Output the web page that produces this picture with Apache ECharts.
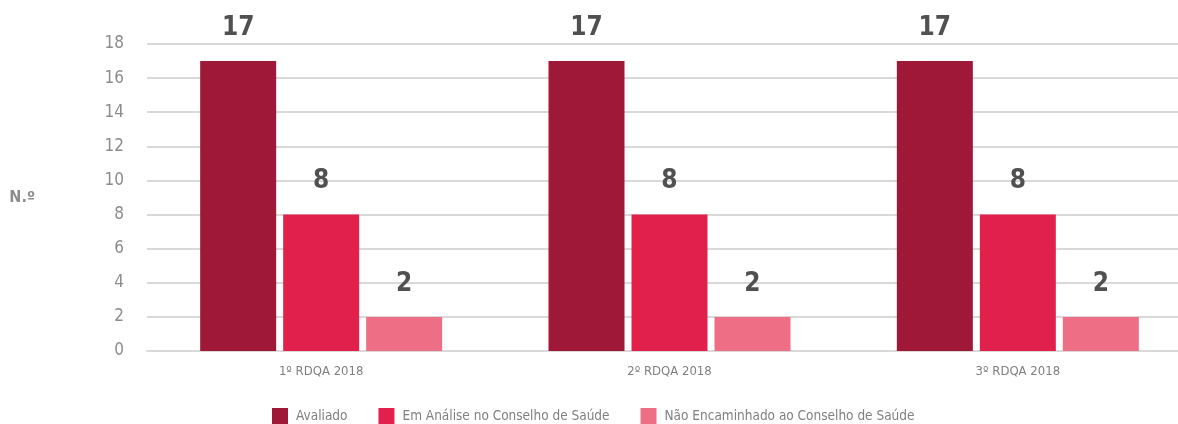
<!DOCTYPE html>
<html>
<head>
<meta charset="utf-8">
<script src="https://cdn.jsdelivr.net/npm/echarts@6/dist/echarts.min.js"></script>
<style>
html,body{margin:0;padding:0;background:#fff;overflow:hidden;width:1178px;height:424px;}
#c{width:1200px;height:424px;}
</style>
</head>
<body>
<div id="c"></div>
<script>
var categories = ['1º RDQA 2018', '2º RDQA 2018', '3º RDQA 2018'];
var seriesNames = ['Avaliado', 'Em Análise no Conselho de Saúde', 'Não Encaminhado ao Conselho de Saúde'];
var avaliado = [17, 17, 17];
var emAnalise = [8, 8, 8];
var naoEncaminhado = [2, 2, 2];
var yTicks = [0, 2, 4, 6, 8, 10, 12, 14, 16, 18];

var FONT = '"Liberation Sans Narrow", "DejaVu Sans Condensed", sans-serif';
var colors = ['#A01838', '#E2204C', '#EE6F85'];
var values = [avaliado, emAnalise, naoEncaminhado];

var chart = echarts.init(document.getElementById('c'), null, {renderer: 'canvas'});
chart.setOption({
  animation: false,
  color: colors,
  grid: {left: 147, top: 44, width: 1045, bottom: 73, containLabel: false},
  legend: {
    bottom: -5, left: 267,
    itemWidth: 16, itemHeight: 16, itemGap: 31,
    icon: 'rect',
    textStyle: {fontFamily: FONT, fontSize: 13.5, color: '#808080', padding: [0, 0, 0, 3]},
    data: seriesNames
  },
  xAxis: {
    type: 'category',
    data: categories,
    axisLine: {show: true, lineStyle: {color: '#d9d9d9', width: 2}},
    axisTick: {show: false},
    axisLabel: {fontFamily: FONT, fontSize: 13, color: '#7f7f7f', margin: 14}
  },
  yAxis: {
    type: 'value',
    min: yTicks[0], max: yTicks[yTicks.length - 1], interval: 2,
    name: 'N.º',
    nameLocation: 'middle',
    nameRotate: 0,
    nameGap: 112,
    nameTextStyle: {fontFamily: FONT, fontSize: 16, fontWeight: 'bold', color: '#8c8c8c'},
    axisLine: {show: false},
    axisTick: {show: false},
    axisLabel: {fontFamily: FONT, fontSize: 17, color: '#8c8c8c', margin: 23},
    splitLine: {lineStyle: {color: '#d9d9d9', width: 2}}
  },
  series: seriesNames.map(function (n, i) {
    return {
      name: n,
      type: 'bar',
      data: values[i],
      barWidth: 76,
      barGap: '9.2%',
      barCategoryGap: '30.6%',
      label: {
        show: true, position: 'top', distance: 20,
        fontFamily: FONT, fontSize: 26, fontWeight: 'bold', color: '#505050'
      }
    };
  })
});
</script>
</body>
</html>
